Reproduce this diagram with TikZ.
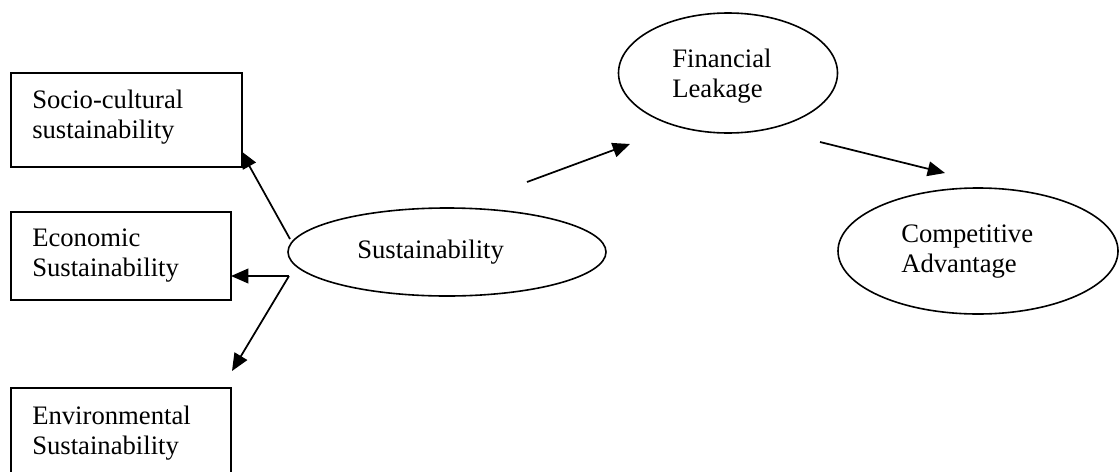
\documentclass[tikz,border=0pt]{standalone}
\usepackage{fontspec}
\setmainfont{Liberation Serif}
\usetikzlibrary{shapes.geometric,arrows.meta}

\tikzset{
  outline/.style={draw=black, line width=1.2pt},
  dimbox/.style={outline, rectangle, inner sep=0pt, anchor=north west},
  oval/.style={outline, ellipse, inner sep=0pt},
  % multi-line labels are placed by the baseline of their last line
  label text/.style={inner sep=0pt, align=left, anchor=base west,
    font=\fontsize{20}{22.5}\selectfont},
  link/.style={line width=1.3pt, -{Triangle[length=13pt, width=11pt]}},
}

\begin{document}
\begin{tikzpicture}[x=0.75pt, y=-0.75pt]
  \useasboundingbox (0,0) rectangle (1119,471);
  \clip (0,0) rectangle (1119,471);

  % dimension boxes on the left
  \node[dimbox, minimum width=173.25pt, minimum height=70.5pt] (socio) at (10,72) {};
  \node[dimbox, minimum width=165pt, minimum height=66pt] (econ) at (10,211) {};
  \node[dimbox, minimum width=165pt, minimum height=75pt] (env) at (10,387) {};

  \node[label text] (sociotxt) at (32,138) {Socio-cultural\\sustainability};
  \node[label text] (econtxt) at (32,276) {Economic\\Sustainability};
  \node[label text] (envtxt) at (32,454) {Environmental\\Sustainability};

  % constructs
  \node[oval, minimum width=238.5pt, minimum height=66pt] (sust) at (447,252) {};
  \node[oval, minimum width=164.25pt, minimum height=90pt] (fin) at (728,73) {};
  \node[oval, minimum width=210pt, minimum height=94.5pt] (comp) at (978,251) {};

  \node[label text] (susttxt) at (357,258) {Sustainability};
  \node[label text] (fintxt) at (672,97) {Financial\\Leakage};
  \node[label text] (comptxt) at (901,272) {Competitive\\Advantage};

  % connector end points
  \coordinate (s1) at (290,239);
  \coordinate (socioend) at (241,151);
  \coordinate (s2) at (289,276);
  \coordinate (econend) at (231,276);
  \coordinate (envend) at (232,371);
  \coordinate (s3) at (527,182);
  \coordinate (finend) at (630,144);
  \coordinate (f1) at (820,142);
  \coordinate (compend) at (945,173);

  \draw[link] (s1) -- (socioend);
  \draw[link] (s2) -- (econend);
  \draw[link] (s2) -- (envend);
  \draw[link] (s3) -- (finend);
  \draw[link] (f1) -- (compend);
\end{tikzpicture}
\end{document}
